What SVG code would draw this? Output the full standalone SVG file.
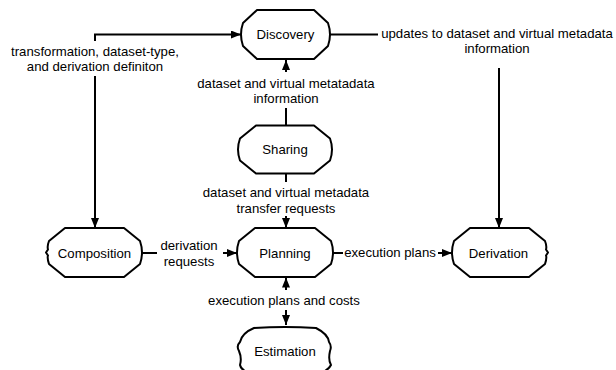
<svg xmlns="http://www.w3.org/2000/svg" width="616" height="370" viewBox="0 0 616 370">
<defs>
<style>
.node path{fill:#fff;stroke:#000;stroke-width:2;stroke-linejoin:round}
text{font-family:"Liberation Sans",Arial,sans-serif;font-size:13.2px;fill:#000;text-anchor:middle}
.conn path{fill:none;stroke:#000;stroke-width:2}
.conn .a{marker-end:url(#arr)}
</style>
<marker id="arr" viewBox="0 0 10 8" refX="10" refY="4" markerWidth="10" markerHeight="8" markerUnits="userSpaceOnUse" orient="auto">
<path d="M0,0 L10,4 L0,8 Z" fill="#000"/>
</marker>
</defs>
<rect width="616" height="370" fill="#fff"/>
<g id="connectors" class="conn">
<path d="M95,41 V34.5 H241" class="a"/>
<path d="M95,76 V228" class="a"/>
<path d="M330,34.5 H378"/>
<path d="M499,68 V228" class="a"/>
<path d="M286,125 V108"/>
<path d="M286,72 V60" class="a"/>
<path d="M286,173 V182"/>
<path d="M286,216 V228" class="a"/>
<path d="M142,253 H157"/>
<path d="M223,253 H237" class="a"/>
<path d="M333,253 H343"/>
<path d="M438,253 H452" class="a"/>
<path d="M286,290 V277.5" class="a"/>
<path d="M286,310 V325" class="a"/>
</g>
<g id="labels">
<text x="95" y="56">transformation, dataset-type,</text>
<text x="95" y="71">and derivation definiton</text>
<text x="286" y="88">dataset and virtual metatadata</text>
<text x="286" y="103">information</text>
<text x="286" y="197">dataset and virtual metadata</text>
<text x="286" y="213">transfer requests</text>
<text x="497" y="38">updates to dataset and virtual metadata</text>
<text x="497" y="53">information</text>
<text x="189" y="250">derivation</text>
<text x="189" y="266">requests</text>
<text x="390" y="257">execution plans</text>
<text x="284" y="305">execution plans and costs</text>
</g>
<g id="discovery" class="node">
<path d="M257,10 H314 L328,23 Q332,34.5 328,46 L314,59 H257 L243,46 Q239,34.5 243,23 Z"/>
<text x="285.5" y="39">Discovery</text>
</g>
<g id="sharing" class="node">
<path d="M256,125.5 H314 L330,138.5 Q334,149.5 330,160.5 L314,173.5 H256 L240,160.5 Q236,149.5 240,138.5 Z"/>
<text x="285" y="154">Sharing</text>
</g>
<g id="planning" class="node">
<path d="M255,228 H315 L331,241 Q335,252.5 331,264 L315,277 H255 L239,264 Q235,252.5 239,241 Z"/>
<text x="285" y="257.5">Planning</text>
</g>
<g id="composition" class="node">
<path d="M65,228 H124 L140,241 Q144,252.5 140,264 L124,277 H65 L49,264 Q47,258 48,255.5 L46,252.5 L48,249.5 Q47,246 49,241 Z"/>
<text x="94.5" y="257.5">Composition</text>
</g>
<g id="derivation" class="node">
<path d="M470,228 H529 L545,241 Q547,246 546,249.5 L548,252.5 L546,255.5 Q547,258 545,264 L529,277 H470 L454,264 Q450,252.5 454,241 Z"/>
<text x="498.5" y="257.5">Derivation</text>
</g>
<g id="estimation" class="node">
<path d="M254,328 Q285,326 316,328 Q328,334 329,342 Q332,346 330,351 Q328,360 331,365 Q328,371 316,375 Q285,377 254,375 Q241,371 240,365 Q242,358 239,351 Q236,346 240,342 Q242,333 254,328 Z"/>
<text x="285" y="356">Estimation</text>
</g>
</svg>
